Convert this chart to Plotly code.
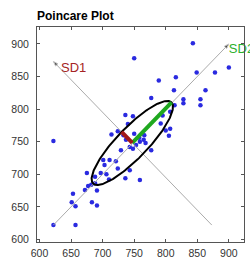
import numpy as np
import plotly.graph_objects as go

# RR(n) vs RR(n+1) points
rr_n = [843, 750, 900, 849, 878, 789, 816, 863, 813, 777, 828, 828, 855, 855, 814,
        736, 748, 807, 792, 800, 807, 805, 740, 724, 714, 750, 737, 758, 765, 759,
        768, 753, 729, 748, 777, 743, 622, 701, 711, 721, 703, 724, 743, 675, 697,
        706, 710, 736, 759, 688, 677, 682, 688, 672, 691, 653, 651, 657, 683, 691,
        622, 657, 766, 795, 733]
rr_n1 = [901, 878, 864, 856, 856, 844, 849, 829, 829, 817, 815, 809, 815, 806, 806,
         791, 789, 796, 778, 767, 770, 759, 777, 766, 761, 762, 753, 756, 753, 750,
         748, 745, 737, 739, 737, 742, 751, 722, 722, 720, 714, 709, 706, 702, 702,
         700, 692, 694, 691, 696, 682, 684, 686, 676, 675, 670, 657, 651, 657, 652,
         622, 622, 760, 790, 760]

center_x = 747
center_y = 748
sd1 = 24
sd2 = 88
rr_min = 622
rr_max = 900
tick_vals = [600, 650, 700, 750, 800, 850, 900]

fig = go.Figure()

fig.add_trace(go.Scatter(x=rr_n, y=rr_n1, mode="markers",
                         marker=dict(color="#2a2ae0", size=4.5), showlegend=False))

# line of identity with arrow
fig.add_trace(go.Scatter(x=[rr_min, rr_max], y=[rr_min, rr_max], mode="lines+markers",
                         line=dict(color="#ababab", width=1),
                         marker=dict(symbol="arrow", angleref="previous", size=[0, 5], color="black"),
                         cliponaxis=False, showlegend=False))
# perpendicular line with arrow at the upper-left end
s = center_x + center_y
fig.add_trace(go.Scatter(x=[s - rr_min, rr_min], y=[rr_min, s - rr_min], mode="lines+markers",
                         line=dict(color="#ababab", width=1),
                         marker=dict(symbol="arrow", angleref="previous", size=[0, 5], color="black"),
                         cliponaxis=False, showlegend=False))

# ellipse
t = np.linspace(0, 2 * np.pi, 200)
c = np.cos(np.pi / 4)
ex = center_x + sd2 * np.cos(t) * c - sd1 * np.sin(t) * c
ey = center_y + sd2 * np.cos(t) * c + sd1 * np.sin(t) * c
fig.add_trace(go.Scatter(x=ex, y=ey, mode="lines", line=dict(color="black", width=2),
                         showlegend=False))

# SD2 and SD1 segments
fig.add_trace(go.Scatter(x=[center_x, center_x + sd2 * c], y=[center_y, center_y + sd2 * c],
                         mode="lines", line=dict(color="#1fa81f", width=4), showlegend=False))
fig.add_trace(go.Scatter(x=[center_x, center_x - sd1 * c], y=[center_y, center_y + sd1 * c],
                         mode="lines", line=dict(color="#a01818", width=4), showlegend=False))

fig.add_trace(go.Scatter(x=[rr_min + 12], y=[s - rr_min - 11], mode="text", text=["SD1"],
                         textposition="middle right", cliponaxis=False,
                         textfont=dict(color="#a52424", size=13, family="Arial"), showlegend=False))
fig.add_trace(go.Scatter(x=[rr_max], y=[rr_max - 9], mode="text", text=["SD2"],
                         textposition="middle right", cliponaxis=False,
                         textfont=dict(color="#2db02d", size=13, family="Arial"), showlegend=False))

axis_common = dict(showgrid=False, zeroline=False, ticks="inside", ticklen=3,
                   tickcolor="#555", showline=True, linecolor="#555", linewidth=1,
                   mirror="ticks", tickvals=tick_vals, automargin=False,
                   tickfont=dict(size=10.5, color="#333", family="Arial"))

fig.update_layout(
    width=250, height=262,
    margin=dict(l=37, r=6, t=27, b=20),
    plot_bgcolor="white", paper_bgcolor="white",
    xaxis=dict(range=[596, 924], **axis_common),
    yaxis=dict(range=[596, 926], **axis_common),
    title=dict(text="<b>Poincare Plot</b>", x=37 / 250, xanchor="left", y=1 - 16 / 262,
               yanchor="middle", font=dict(size=12, color="black", family="Arial")),
    showlegend=False,
)
fig.update_xaxes(ticklabelstandoff=1)
fig.update_yaxes(ticklabelstandoff=5)

fig.write_html("out.html", config={"displayModeBar": False},
               post_script="document.body.style.margin='0';document.body.style.overflow='hidden';")
